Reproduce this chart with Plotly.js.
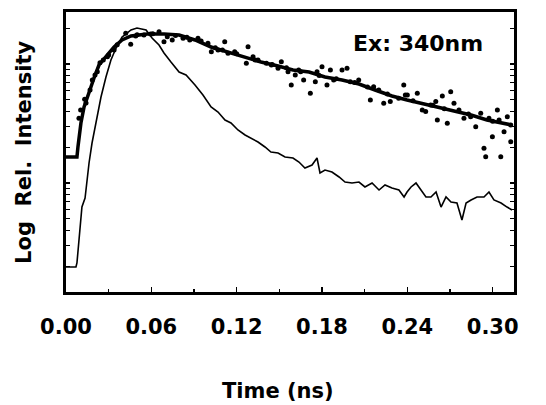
<!DOCTYPE html>
<html>
<head>
<meta charset="utf-8">
<script src="https://cdn.plot.ly/plotly-3.0.1.min.js"></script>
<style>
html,body{margin:0;padding:0;background:#fff;}
#chart{width:546px;height:405px;}
</style>
</head>
<body>
<div id="chart"></div>
<script>
// Fitted decay (thick line)
const fitTime = [0.000, 0.0077, 0.0084, 0.0105, 0.0127, 0.0162, 0.0197, 0.0232, 0.0281, 0.0338, 0.0394, 0.0457, 0.0570, 0.0689, 0.0795, 0.0907, 0.1020, 0.1139, 0.1259, 0.1371, 0.1491, 0.1596, 0.1709, 0.1821, 0.1941, 0.2060, 0.2173, 0.2292, 0.2398, 0.2496, 0.2609, 0.2728, 0.2848, 0.2960, 0.3136];
const fitIntensity = [0.1654, 0.1654, 0.2007, 0.3192, 0.4352, 0.5816, 0.7630, 0.9808, 1.145, 1.390, 1.591, 1.719, 1.787, 1.787, 1.753, 1.591, 1.390, 1.261, 1.145, 1.039, 0.9620, 0.8904, 0.8566, 0.7775, 0.7337, 0.6793, 0.6046, 0.5383, 0.4982, 0.4702, 0.4352, 0.4027, 0.3727, 0.3383, 0.3072];

// Second trace (thin line)
const refTime = [0.000, 0.0070, 0.0077, 0.0084, 0.0098, 0.0112, 0.0134, 0.0148, 0.0162, 0.0183, 0.0211, 0.0246, 0.0281, 0.0316, 0.0352, 0.0394, 0.0457, 0.0499, 0.0563, 0.0605, 0.0654, 0.0689, 0.0738, 0.0795, 0.0844, 0.0907, 0.0963, 0.1020, 0.1069, 0.1118, 0.1160, 0.1209, 0.1259, 0.1301, 0.1350, 0.1399, 0.1441, 0.1491, 0.1540, 0.1596, 0.1638, 0.1680, 0.1730, 0.1765, 0.1786, 0.1821, 0.1870, 0.1920, 0.1962, 0.2011, 0.2060, 0.2102, 0.2152, 0.2201, 0.2243, 0.2292, 0.2341, 0.2377, 0.2398, 0.2426, 0.2461, 0.2496, 0.2531, 0.2566, 0.2602, 0.2637, 0.2672, 0.2707, 0.2749, 0.2784, 0.2813, 0.2848, 0.2890, 0.2939, 0.2974, 0.3009, 0.3059, 0.3101, 0.3136];
const refIntensity = [0.01968, 0.01968, 0.02128, 0.02735, 0.04027, 0.06289, 0.07482, 0.1060, 0.1473, 0.2168, 0.3192, 0.5282, 0.7775, 1.080, 1.363, 1.686, 1.931, 2.007, 1.931, 1.654, 1.444, 1.237, 1.039, 0.8566, 0.8083, 0.6662, 0.5489, 0.4352, 0.3950, 0.3383, 0.3192, 0.2789, 0.2532, 0.2389, 0.2211, 0.2007, 0.1822, 0.1787, 0.1654, 0.1622, 0.1501, 0.1337, 0.1416, 0.1622, 0.1213, 0.1285, 0.1237, 0.1123, 0.1019, 0.1000, 0.1019, 0.0926, 0.1000, 0.0873, 0.0962, 0.0908, 0.0873, 0.0763, 0.0840, 0.0926, 0.1000, 0.0873, 0.0763, 0.0763, 0.0840, 0.0628, 0.0763, 0.0692, 0.0679, 0.0489, 0.0679, 0.0720, 0.0763, 0.0763, 0.0840, 0.0720, 0.0679, 0.0628, 0.0593];

// Measured points (dots)
const dotTime = [0.0091, 0.0103, 0.0131, 0.0141, 0.0169, 0.0185, 0.0204, 0.0220, 0.0239, 0.0262, 0.0291, 0.0300, 0.0338, 0.0360, 0.0420, 0.0455, 0.0490, 0.0500, 0.0548, 0.0595, 0.0610, 0.0654, 0.0689, 0.0712, 0.0747, 0.0770, 0.0823, 0.0850, 0.0870, 0.0928, 0.0950, 0.0998, 0.1022, 0.1050, 0.1069, 0.1100, 0.1116, 0.1139, 0.1186, 0.1200, 0.1268, 0.1280, 0.1315, 0.1330, 0.1350, 0.1409, 0.1444, 0.1450, 0.1491, 0.1514, 0.1550, 0.1561, 0.1584, 0.1612, 0.1636, 0.1650, 0.1671, 0.1718, 0.1753, 0.1765, 0.1780, 0.1800, 0.1835, 0.1859, 0.1882, 0.1900, 0.1941, 0.1976, 0.1999, 0.2030, 0.2058, 0.2120, 0.2140, 0.2163, 0.2199, 0.2234, 0.2260, 0.2280, 0.2339, 0.2375, 0.2386, 0.2400, 0.2440, 0.2470, 0.2505, 0.2529, 0.2564, 0.2580, 0.2600, 0.2611, 0.2646, 0.2660, 0.2681, 0.2705, 0.2728, 0.2763, 0.2798, 0.2830, 0.2845, 0.2881, 0.2916, 0.2939, 0.2951, 0.2974, 0.2998, 0.3000, 0.3033, 0.3045, 0.3057, 0.3080, 0.3103, 0.3127, 0.3127];
const dotIntensity = [0.350, 0.410, 0.505, 0.47, 0.605, 0.734, 0.809, 0.862, 1.026, 1.080, 1.152, 1.19, 1.311, 1.45, 1.811, 1.464, 1.719, 1.76, 1.753, 1.787, 1.80, 1.868, 1.539, 1.696, 1.591, 1.74, 1.644, 1.68, 1.591, 1.644, 1.56, 1.493, 1.269, 1.37, 1.311, 1.31, 1.539, 1.230, 1.269, 1.22, 1.014, 1.398, 1.152, 1.08, 1.080, 1.014, 0.981, 0.99, 0.920, 1.045, 0.93, 0.862, 0.666, 0.808, 0.890, 0.86, 0.734, 0.567, 0.710, 0.862, 0.80, 0.950, 0.666, 0.890, 0.734, 0.75, 0.890, 0.920, 0.710, 0.70, 0.734, 0.64, 0.498, 0.645, 0.605, 0.467, 0.56, 0.483, 0.515, 0.666, 0.549, 0.549, 0.49, 0.567, 0.411, 0.398, 0.452, 0.45, 0.483, 0.338, 0.538, 0.42, 0.317, 0.585, 0.467, 0.411, 0.350, 0.38, 0.361, 0.297, 0.385, 0.1956, 0.1663, 0.350, 0.245, 0.33, 0.411, 0.338, 0.1663, 0.270, 0.361, 0.2223, 0.307];

const xTickStep = 0.06;
const xMinorStep = 0.03;
const xTitle = 'Time (ns)';
const yTitle = 'Log\u00a0\u00a0Rel.\u00a0\u00a0Intensity';
const noteText = 'Ex: 340nm';

const FONT = 'DejaVu Sans, Arial, sans-serif';

const traces = [
  {x: refTime, y: refIntensity, type: 'scatter', mode: 'lines',
   line: {color: '#000', width: 1.6}, hoverinfo: 'skip'},
  {x: dotTime, y: dotIntensity, type: 'scatter', mode: 'markers',
   marker: {color: '#000', size: 5}, hoverinfo: 'skip'},
  {x: fitTime, y: fitIntensity, type: 'scatter', mode: 'lines',
   line: {color: '#000', width: 3.5}, hoverinfo: 'skip'}
];

const layout = {
  width: 546, height: 405,
  margin: {l: 66, r: 32, t: 12, b: 113, pad: 0},
  paper_bgcolor: '#fff', plot_bgcolor: '#fff',
  showlegend: false,
  xaxis: {
    range: [0, 0.315], tick0: 0, dtick: xTickStep, tickformat: '.2f',
    ticks: 'inside', ticklen: 5, tickwidth: 1.5, tickcolor: '#000',
    showline: true, linewidth: 3, linecolor: '#000', mirror: true,
    showgrid: false, zeroline: false,
    tickfont: {family: FONT, size: 21, color: '#000', weight: 'bold'},
    ticklabelstandoff: 14,
    minor: {dtick: xMinorStep, ticks: 'inside', ticklen: 3, tickwidth: 1.5, tickcolor: '#000', showgrid: false}
  },
  yaxis: {
    type: 'log', range: [-1.916, 0.437], dtick: 'D1',
    ticks: 'inside', ticklen: 4, tickwidth: 1.2, tickcolor: '#000',
    showticklabels: false,
    showline: true, linewidth: 3, linecolor: '#000', mirror: 'ticks',
    showgrid: false, zeroline: false
  },
  annotations: [
    {text: noteText, xref: 'paper', yref: 'paper', x: 0.7846, y: 0.889,
     xanchor: 'center', yanchor: 'middle', showarrow: false,
     font: {family: FONT, size: 22, color: '#000', weight: 'bold'}},
    {text: xTitle, xref: 'paper', yref: 'paper', x: 0.473, y: -0.352,
     xanchor: 'center', yanchor: 'middle', showarrow: false,
     font: {family: FONT, size: 21, color: '#000', weight: 'bold'}},
    {text: yTitle, xref: 'paper', yref: 'paper', x: -0.094, y: 0.5, textangle: -90,
     xanchor: 'center', yanchor: 'middle', showarrow: false,
     font: {family: FONT, size: 21, color: '#000', weight: 'bold'}}
  ]
};

Plotly.newPlot('chart', traces, layout, {staticPlot: true, displayModeBar: false});
</script>
</body>
</html>
